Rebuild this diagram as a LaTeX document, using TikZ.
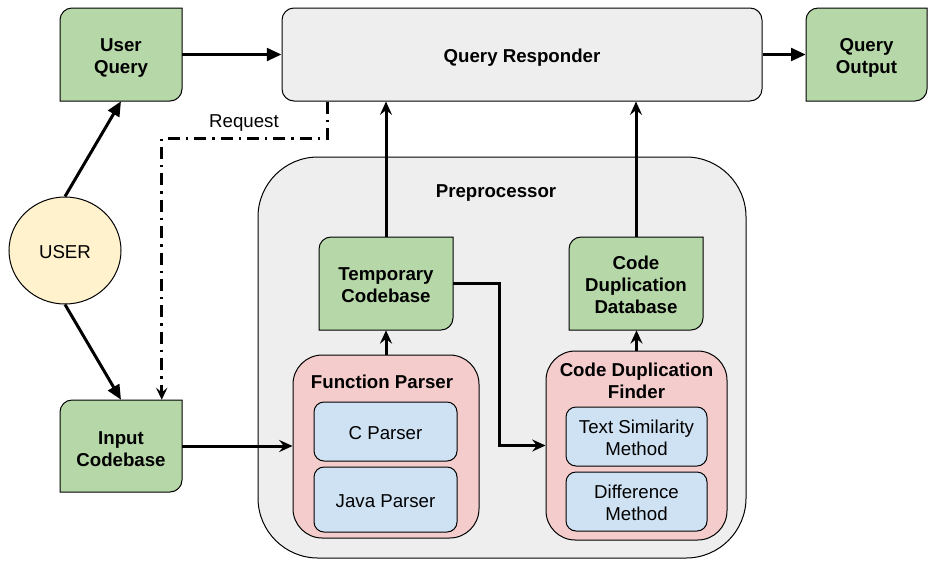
\documentclass[tikz,border=0pt]{standalone}
\usepackage{fontspec}
\setmainfont{Liberation Sans}
\usetikzlibrary{arrows.meta,shapes.geometric,calc}
\definecolor{gfill}{HTML}{B6D7A8}
\definecolor{rfill}{HTML}{F4CCCC}
\definecolor{bfill}{HTML}{CFE2F3}
\definecolor{yfill}{HTML}{FFF2CC}
\definecolor{grayfill}{HTML}{EEEEEE}
\newcommand\greenshape[4]{\draw[gshape] (#1,#4) -- (#1,#2+12) .. controls (#1,#2+5.4) and (#1+5.4,#2) .. (#1+12,#2) -- (#3,#2) -- (#3,#4-12) .. controls (#3,#4-5.4) and (#3-5.4,#4) .. (#3-12,#4) -- cycle;}
\tikzset{
  txt/.style={font=\fontsize{14}{16.5}\selectfont, align=center, inner sep=0pt},
  btxt/.style={font=\fontsize{14}{16.5}\selectfont\bfseries, align=center, inner sep=0pt},
  blbl/.style={label={[btxt,yshift=-2.4pt]center:{#1}}},
  blblb/.style={label={[btxt,yshift=-1pt]center:{#1}}},
  rlbl/.style={label={[txt,yshift=-0.9pt]center:{#1}}},
  gshape/.style={draw=black, line width=0.75pt, fill=gfill},
  gnode/.style={draw=none, inner sep=0pt},
  container/.style={draw=black, line width=0.75pt, fill=grayfill},
  redbox/.style={draw=black, line width=0.75pt, fill=rfill, rounded corners=22pt},
  bluebox/.style={draw=black, line width=0.75pt, fill=bfill, rounded corners=7.5pt},
  userell/.style={ellipse, draw=black, line width=0.75pt, fill=yfill},
  blockarr/.style={line width=2.25pt, -{Triangle[length=11pt,width=9.5pt]}},
  stealtharr/.style={line width=2.25pt, -{Stealth[length=10pt,width=9pt,inset=3.5pt]}},
  dasharr/.style={line width=2.1pt, dash pattern=on 9pt off 4.5pt on 1.8pt off 4.5pt, -{Stealth[length=9pt,width=8.5pt,inset=3.5pt]}},
}
\begin{document}
\begin{tikzpicture}[x=0.75pt,y=-0.75pt]
\useasboundingbox (0,0) rectangle (937,565);
% containers
\node[container, rounded corners=9pt, minimum width=360pt, minimum height=69.75pt, blbl={Query Responder}] (qr) at (522,54.5) {};
\node[container, rounded corners=45pt, minimum width=366pt, minimum height=300.75pt] (pre) at (502,357.5) {};
\node[btxt] (pret) at (496,193.5) {Preprocessor};
\node[redbox, minimum width=139.5pt, minimum height=137.25pt] (fp) at (386,446.5) {};
\node[btxt] (fpt) at (382,382) {Function Parser};
\node[bluebox, minimum width=107.25pt, minimum height=44.25pt, rlbl={C Parser}] (cp) at (385.5,431.5) {};
\node[bluebox, minimum width=107.25pt, minimum height=48.75pt, rlbl={Java Parser}] (jp) at (385.5,499.5) {};
\node[redbox, minimum width=135.75pt, minimum height=141.75pt] (cdf) at (636.5,445.5) {};
\node[btxt] (cdft) at (636.5,381) {Code Duplication\\Finder};
\node[bluebox, minimum width=105.75pt, minimum height=44.25pt, rlbl={Text Similarity\\Method}] (ts) at (636.5,436.5) {};
\node[bluebox, minimum width=105.75pt, minimum height=44.25pt, rlbl={Difference\\Method}] (dm) at (636.5,501.5) {};
% green boxes
\greenshape{60}{8}{182}{101}
\node[gnode, minimum width=91.5pt, minimum height=69.75pt, blbl={User\\Query}] (uq) at (121,54.5) {};
\greenshape{806}{8}{927}{101}
\node[gnode, minimum width=90.75pt, minimum height=69.75pt, blbl={Query\\Output}] (qo) at (866.5,54.5) {};
\greenshape{60}{400}{182}{492}
\node[gnode, minimum width=91.5pt, minimum height=69pt, blbl={Input\\Codebase}] (ic) at (121,446) {};
\greenshape{319}{237}{453}{330}
\node[gnode, minimum width=100.5pt, minimum height=69.75pt, blblb={Temporary\\Codebase}] (tc) at (386,283.5) {};
\greenshape{569}{237}{703}{330}
\node[gnode, minimum width=100.5pt, minimum height=69.75pt, blblb={Code\\Duplication\\Database}] (db) at (636,283.5) {};
% user
\node[userell, minimum width=84pt, minimum height=80.25pt, rlbl={USER}] (user) at (65,250.5) {};
% connectors
\draw[blockarr] (uq.east) -- (qr.west);
\draw[blockarr] (qr.east) -- (qo.west);
\draw[blockarr] (user.north) -- (uq.south);
\draw[blockarr] (user.south) -- (ic.north);
\coordinate (rq) at ($(qr.south west)+(46,0)$);
\coordinate (rb) at ($(ic.north west)+(102,0)$);
\draw[dasharr] (rq) -- ++(0,37) -| (rb);
\node[txt] (req) at (244,123.5) {Request};
\draw[stealtharr] (ic.east) -- (fp.west |- ic.east);
\draw[stealtharr] (fp.north) -- (tc.south);
\draw[stealtharr] (tc.north) -- (tc.north |- qr.south);
\draw[stealtharr] (tc.east) -- ++(46,0) |- (cdf.west);
\draw[stealtharr] (cdf.north) -- (cdf.north |- db.south);
\draw[stealtharr] (db.north) -- (db.north |- qr.south);
\end{tikzpicture}
\end{document}
